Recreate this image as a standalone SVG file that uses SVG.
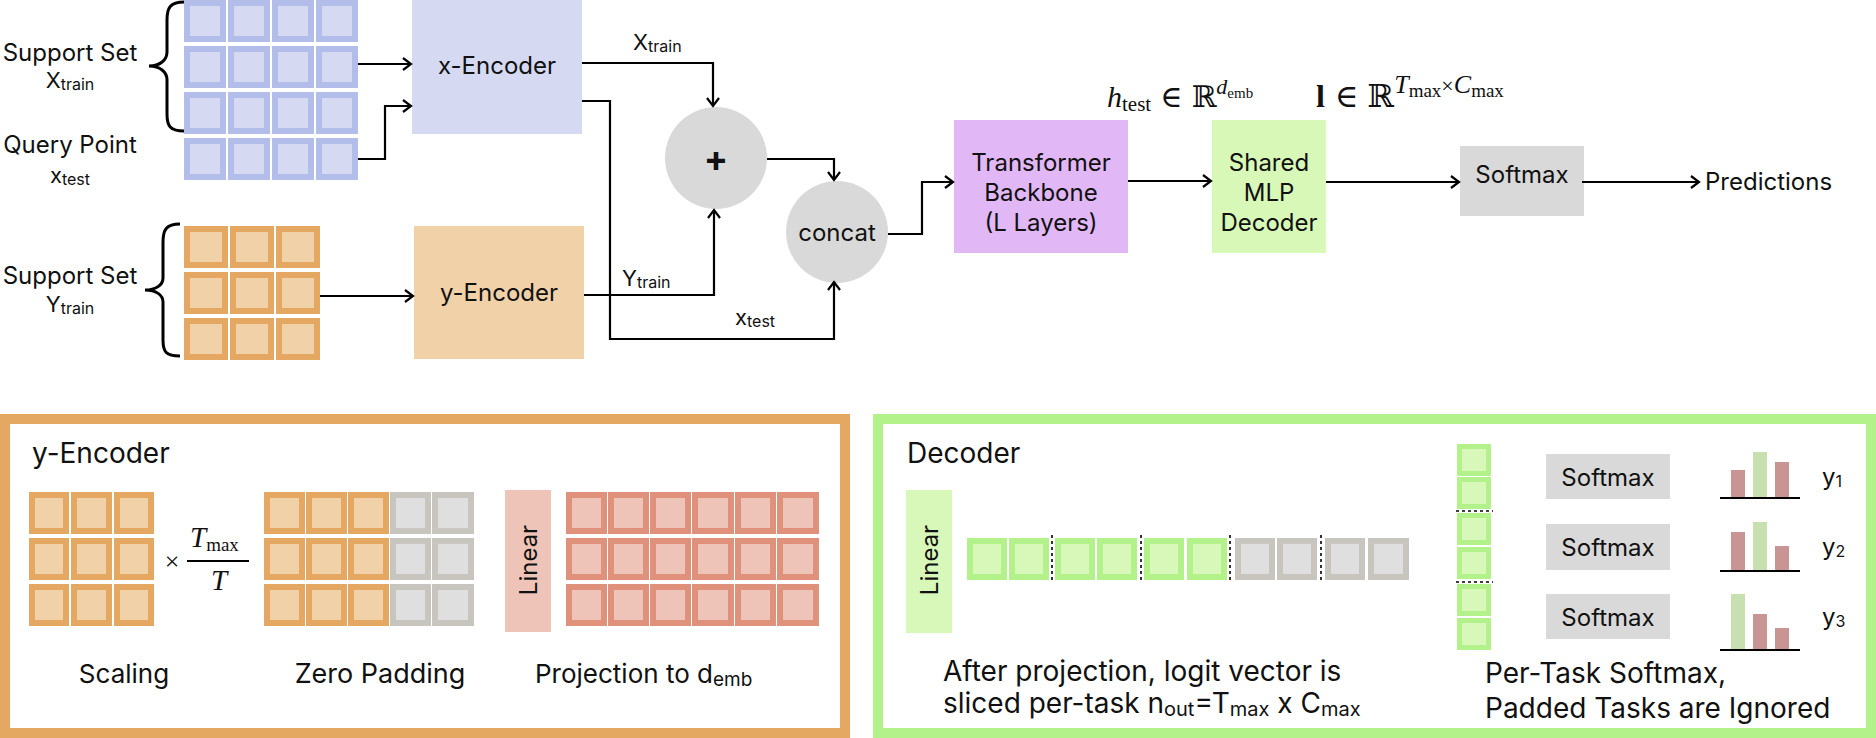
<svg xmlns="http://www.w3.org/2000/svg" width="1876" height="738" viewBox="0 0 1876 738">
<style>
text{font-family:Inter,"Noto Sans","Liberation Sans",sans-serif;fill:#111;}
.t22{font-size:22px;}
.t24{font-size:24px;}
.t26{font-size:26px;}
.t28{font-size:28px;}
.sub{font-size:16px;}
.mid{text-anchor:middle;}
.cB{fill:#d5daf2;stroke:#b2bde9;stroke-width:6;}
.cO{fill:#f0d1a8;stroke:#e5a862;stroke-width:6;}
.cR{fill:#efc4b8;stroke:#e0917c;stroke-width:6;}
.cG{fill:#d7f8b9;stroke:#b3f28a;stroke-width:6;}
.cZ{fill:#dfdfdf;stroke:#c8c5bf;stroke-width:6;}
.cGv{fill:#d7f8b9;stroke:#b3f28a;stroke-width:5;}
.conn{fill:none;stroke:#000;stroke-width:2.2;marker-end:url(#arr);}
.brace{fill:none;stroke:#000;stroke-width:3;}
.dot{stroke:#000;stroke-width:1.6;stroke-dasharray:3,3;}
.math{font-family:"DejaVu Serif","Liberation Serif",serif;}
.mi{font-family:"Liberation Serif","DejaVu Serif",serif;font-style:italic;}
.mr{font-family:"Liberation Serif","DejaVu Serif",serif;}
</style>
<defs>
<marker id="arr" markerUnits="userSpaceOnUse" markerWidth="12" markerHeight="14" refX="9" refY="7" orient="auto">
<path d="M1,1 L9,7 L1,13" fill="none" stroke="#000" stroke-width="2.2"/>
</marker>
</defs>
<rect width="1876" height="738" fill="#fff"/>

<!-- input labels -->
<g id="label-xtrain">
<text class="t24 mid" x="70" y="61">Support Set</text>
<text class="t22 mid" x="70" y="88">X<tspan class="sub" dy="2">train</tspan></text>
</g>
<g id="label-xtest">
<text class="t24 mid" x="70" y="153">Query Point</text>
<text class="t22 mid" x="70" y="183">x<tspan class="sub" dy="2">test</tspan></text>
</g>
<g id="label-ytrain">
<text class="t24 mid" x="70" y="284">Support Set</text>
<text class="t22 mid" x="70" y="312">Y<tspan class="sub" dy="2">train</tspan></text>
</g>

<!-- braces -->
<g id="braces">
<path class="brace" d="M184,2 C170,2 167,8 167,20 L167,52 C167,60 160,66 149,66 C160,66 167,72 167,80 L167,114 C167,126 170,131 184,131"/>
<path class="brace" d="M180,224 C166,224 163,230 163,242 L163,278 C163,285 156,290 145,290 C156,290 163,295 163,302 L163,340 C163,352 166,356 180,356"/>
</g>

<!-- X grid -->
<g id="x-grid">
<rect class="cB" x="187" y="3" width="36" height="36"/><rect class="cB" x="231" y="3" width="36" height="36"/><rect class="cB" x="275" y="3" width="36" height="36"/><rect class="cB" x="319" y="3" width="36" height="36"/>
<rect class="cB" x="187" y="49" width="36" height="36"/><rect class="cB" x="231" y="49" width="36" height="36"/><rect class="cB" x="275" y="49" width="36" height="36"/><rect class="cB" x="319" y="49" width="36" height="36"/>
<rect class="cB" x="187" y="95" width="36" height="36"/><rect class="cB" x="231" y="95" width="36" height="36"/><rect class="cB" x="275" y="95" width="36" height="36"/><rect class="cB" x="319" y="95" width="36" height="36"/>
<rect class="cB" x="187" y="141" width="36" height="36"/><rect class="cB" x="231" y="141" width="36" height="36"/><rect class="cB" x="275" y="141" width="36" height="36"/><rect class="cB" x="319" y="141" width="36" height="36"/>
</g>

<!-- Y grid -->
<g id="y-grid">
<rect class="cO" x="187" y="229" width="38" height="36"/><rect class="cO" x="233" y="229" width="38" height="36"/><rect class="cO" x="279" y="229" width="38" height="36"/>
<rect class="cO" x="187" y="275" width="38" height="36"/><rect class="cO" x="233" y="275" width="38" height="36"/><rect class="cO" x="279" y="275" width="38" height="36"/>
<rect class="cO" x="187" y="321" width="38" height="36"/><rect class="cO" x="233" y="321" width="38" height="36"/><rect class="cO" x="279" y="321" width="38" height="36"/>
</g>

<g id="x-encoder">
<rect x="412" y="0" width="170" height="134" fill="#d5daf2"/>
<text class="t24 mid" x="497" y="74">x-Encoder</text>
</g>
<g id="y-encoder">
<rect x="414" y="226" width="170" height="133" fill="#f0d1a8"/>
<text class="t24 mid" x="499" y="301">y-Encoder</text>
</g>
<g id="plus">
<circle cx="716" cy="158" r="51" fill="#d9d9d9"/>
<text x="716" y="171" class="mid" style="font-size:36px;font-weight:700">+</text>
</g>
<g id="concat">
<circle cx="837" cy="232" r="51" fill="#d9d9d9"/>
<text class="t24 mid" x="837" y="241">concat</text>
</g>
<g id="transformer">
<rect x="954" y="120" width="174" height="133" fill="#e1b8f5"/>
<text class="t24 mid" x="1041" y="171">Transformer</text>
<text class="t24 mid" x="1041" y="201">Backbone</text>
<text class="t24 mid" x="1041" y="231">(L Layers)</text>
</g>
<g id="mlp">
<rect x="1212" y="120" width="114" height="133" fill="#d8f8b8"/>
<text class="t24 mid" x="1269" y="171">Shared</text>
<text class="t24 mid" x="1269" y="201">MLP</text>
<text class="t24 mid" x="1269" y="231">Decoder</text>
</g>
<g id="softmax">
<rect x="1460" y="146" width="124" height="70" fill="#d9d9d9"/>
<text class="t24 mid" x="1522" y="183">Softmax</text>
</g>
<g id="predictions">
<text class="t24" x="1705" y="190">Predictions</text>
</g>

<!-- math labels -->
<g id="h-label">
<text x="1107" y="107" style="font-size:30px"><tspan class="mi">h</tspan><tspan class="mr" style="font-size:21px" dy="4">test</tspan><tspan class="math" dy="-4" dx="9">∈</tspan><tspan class="math" dx="9">ℝ</tspan><tspan class="mi" style="font-size:22px" dy="-13">d</tspan><tspan class="mr" style="font-size:15px" dy="4">emb</tspan></text>
</g>
<g id="l-label">
<text x="1316" y="107" style="font-size:32px"><tspan class="mr" font-weight="700">l</tspan><tspan class="math" dx="10">∈</tspan><tspan class="math" dx="9">ℝ</tspan><tspan class="mi" style="font-size:26px" dy="-14">T</tspan><tspan class="mr" style="font-size:19px" dy="4">max</tspan><tspan class="mr" style="font-size:22px" dy="-4">×</tspan><tspan class="mi" style="font-size:26px">C</tspan><tspan class="mr" style="font-size:19px" dy="4">max</tspan></text>
</g>

<g id="edge-labels">
<text class="t22" x="633" y="50">X<tspan class="sub" dy="2">train</tspan></text>
<text class="t22" x="622" y="286">Y<tspan class="sub" dy="2">train</tspan></text>
<text class="t22" x="735" y="325">x<tspan class="sub" dy="2">test</tspan></text>
</g>

<g id="connectors">
<path class="conn" d="M358,64 H411"/>
<path class="conn" d="M358,159 H385 V106 H411"/>
<path class="conn" d="M582,63 H713 V106"/>
<path class="conn" d="M582,101 H610 V339 H834 V282"/>
<path class="conn" d="M584,295 H714 V210"/>
<path class="conn" d="M767,159 H834 V180"/>
<path class="conn" d="M320,296 H413"/>
<path class="conn" d="M888,234 H922 V182 H953"/>
<path class="conn" d="M1128,181 H1211"/>
<path class="conn" d="M1326,182 H1459"/>
<path class="conn" d="M1582,182 H1699"/>
</g>

<!-- bottom left panel -->
<g id="y-encoder-panel">
<rect x="5" y="419" width="840" height="314" fill="none" stroke="#e5a862" stroke-width="10"/>
<text class="t28" x="32" y="463">y-Encoder</text>
<g id="scaling-grid">
<rect class="cO" x="32" y="495" width="34" height="36"/><rect class="cO" x="74" y="495" width="35" height="36"/><rect class="cO" x="117" y="495" width="34" height="36"/>
<rect class="cO" x="32" y="541" width="34" height="36"/><rect class="cO" x="74" y="541" width="35" height="36"/><rect class="cO" x="117" y="541" width="34" height="36"/>
<rect class="cO" x="32" y="587" width="34" height="36"/><rect class="cO" x="74" y="587" width="35" height="36"/><rect class="cO" x="117" y="587" width="34" height="36"/>
</g>
<text class="mr" x="172" y="570" text-anchor="middle" style="font-size:26px">×</text>
<text x="190" y="547" style="font-size:29px"><tspan class="mi">T</tspan><tspan class="mr" style="font-size:19px" dy="4">max</tspan></text>
<line x1="187" y1="561" x2="249" y2="561" stroke="#000" stroke-width="2"/>
<text class="mi" x="219" y="590" text-anchor="middle" style="font-size:29px">T</text>
<g id="padding-grid">
<rect class="cO" x="267" y="495" width="35" height="36"/><rect class="cO" x="309" y="495" width="35" height="36"/><rect class="cO" x="351" y="495" width="35" height="36"/><rect class="cZ" x="393" y="495" width="35" height="36"/><rect class="cZ" x="435" y="495" width="36" height="36"/>
<rect class="cO" x="267" y="541" width="35" height="36"/><rect class="cO" x="309" y="541" width="35" height="36"/><rect class="cO" x="351" y="541" width="35" height="36"/><rect class="cZ" x="393" y="541" width="35" height="36"/><rect class="cZ" x="435" y="541" width="36" height="36"/>
<rect class="cO" x="267" y="587" width="35" height="36"/><rect class="cO" x="309" y="587" width="35" height="36"/><rect class="cO" x="351" y="587" width="35" height="36"/><rect class="cZ" x="393" y="587" width="35" height="36"/><rect class="cZ" x="435" y="587" width="36" height="36"/>
</g>
<rect x="505" y="490" width="46" height="142" fill="#efc4b8"/>
<text class="t24 mid" transform="translate(537,560) rotate(-90)" x="0" y="0">Linear</text>
<g id="projection-grid">
<rect class="cR" x="569" y="495" width="35" height="36"/><rect class="cR" x="611" y="495" width="35" height="36"/><rect class="cR" x="653" y="495" width="35" height="36"/><rect class="cR" x="695" y="495" width="36" height="36"/><rect class="cR" x="738" y="495" width="35" height="36"/><rect class="cR" x="780" y="495" width="36" height="36"/>
<rect class="cR" x="569" y="541" width="35" height="36"/><rect class="cR" x="611" y="541" width="35" height="36"/><rect class="cR" x="653" y="541" width="35" height="36"/><rect class="cR" x="695" y="541" width="36" height="36"/><rect class="cR" x="738" y="541" width="35" height="36"/><rect class="cR" x="780" y="541" width="36" height="36"/>
<rect class="cR" x="569" y="587" width="35" height="36"/><rect class="cR" x="611" y="587" width="35" height="36"/><rect class="cR" x="653" y="587" width="35" height="36"/><rect class="cR" x="695" y="587" width="36" height="36"/><rect class="cR" x="738" y="587" width="35" height="36"/><rect class="cR" x="780" y="587" width="36" height="36"/>
</g>
<text class="t26 mid" x="124" y="683">Scaling</text>
<text class="mid" style="font-size:27px" x="380" y="683">Zero Padding</text>
<text class="t26" x="535" y="683">Projection to d<tspan style="font-size:19px" dy="3">emb</tspan></text>
</g>

<!-- bottom right panel -->
<g id="decoder-panel">
<rect x="878" y="419" width="993" height="314" fill="none" stroke="#b3f28a" stroke-width="10"/>
<text class="t28" x="907" y="463">Decoder</text>
<rect x="906" y="490" width="46" height="143" fill="#d7f8b9"/>
<text class="t24 mid" transform="translate(938,560) rotate(-90)" x="0" y="0">Linear</text>
<g id="logit-row">
<rect class="cG" x="970" y="541" width="34" height="36"/><rect class="cG" x="1012" y="541" width="34" height="36"/>
<rect class="cG" x="1058" y="541" width="34" height="36"/><rect class="cG" x="1100" y="541" width="34" height="36"/>
<rect class="cG" x="1147" y="541" width="34" height="36"/><rect class="cG" x="1190" y="541" width="34" height="36"/>
<rect class="cZ" x="1238" y="541" width="34" height="36"/><rect class="cZ" x="1280" y="541" width="34" height="36"/>
<rect class="cZ" x="1328" y="541" width="34" height="36"/><rect class="cZ" x="1371" y="541" width="35" height="36"/>
<line class="dot" x1="1052" y1="535" x2="1052" y2="582"/>
<line class="dot" x1="1141" y1="535" x2="1141" y2="582"/>
<line class="dot" x1="1230" y1="535" x2="1230" y2="582"/>
<line class="dot" x1="1321" y1="535" x2="1321" y2="582"/>
</g>
<g id="task-column">
<rect class="cGv" x="1459.5" y="446.5" width="29" height="27"/>
<rect class="cGv" x="1459.5" y="479.5" width="29" height="27"/>
<rect class="cGv" x="1459.5" y="515.5" width="29" height="27"/>
<rect class="cGv" x="1459.5" y="549.5" width="29" height="27"/>
<rect class="cGv" x="1459.5" y="586.5" width="29" height="27"/>
<rect class="cGv" x="1459.5" y="620.5" width="29" height="27"/>
<line class="dot" x1="1456" y1="511" x2="1493" y2="511"/>
<line class="dot" x1="1456" y1="582" x2="1493" y2="582"/>
</g>
<g id="softmax-1"><rect x="1546" y="454" width="124" height="45" fill="#d9d9d9"/><text class="t24 mid" x="1608" y="486">Softmax</text></g>
<g id="softmax-2"><rect x="1546" y="524" width="124" height="46" fill="#d9d9d9"/><text class="t24 mid" x="1608" y="556">Softmax</text></g>
<g id="softmax-3"><rect x="1546" y="594" width="124" height="45" fill="#d9d9d9"/><text class="t24 mid" x="1608" y="626">Softmax</text></g>
<g id="chart-1">
<rect x="1731" y="470" width="14" height="28" fill="#c99494"/><rect x="1753" y="452" width="14" height="46" fill="#c8e0b0"/><rect x="1775" y="462" width="14" height="36" fill="#c99494"/>
<line x1="1720" y1="498" x2="1800" y2="498" stroke="#000" stroke-width="2"/>
</g>
<g id="chart-2">
<rect x="1731" y="532" width="14" height="39" fill="#c99494"/><rect x="1753" y="522" width="14" height="49" fill="#c8e0b0"/><rect x="1775" y="546" width="14" height="25" fill="#c99494"/>
<line x1="1720" y1="571" x2="1800" y2="571" stroke="#000" stroke-width="2"/>
</g>
<g id="chart-3">
<rect x="1731" y="594" width="14" height="56" fill="#c8e0b0"/><rect x="1753" y="614" width="14" height="36" fill="#c99494"/><rect x="1775" y="628" width="14" height="22" fill="#c99494"/>
<line x1="1720" y1="650" x2="1800" y2="650" stroke="#000" stroke-width="2"/>
</g>
<text class="t24" x="1822" y="485">y<tspan style="font-size:16px" dy="2">1</tspan></text>
<text class="t24" x="1822" y="555">y<tspan style="font-size:16px" dy="2">2</tspan></text>
<text class="t24" x="1822" y="625">y<tspan style="font-size:16px" dy="2">3</tspan></text>
<text class="t28" x="943" y="681">After projection, logit vector is</text>
<text class="t28" x="943" y="713">sliced per-task n<tspan style="font-size:20px" dy="3">out</tspan><tspan dy="-3">=T</tspan><tspan style="font-size:20px" dy="3">max</tspan><tspan dy="-3"> x C</tspan><tspan style="font-size:20px" dy="3">max</tspan></text>
<text class="t28" x="1485" y="683">Per-Task Softmax,</text>
<text class="t28" x="1485" y="718">Padded Tasks are Ignored</text>
</g>
</svg>
